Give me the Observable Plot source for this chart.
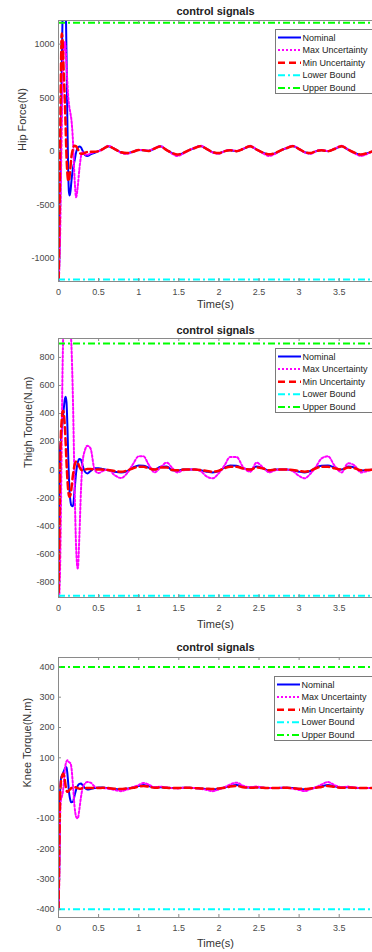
<!DOCTYPE html>
<html>
<head>
<meta charset="utf-8">
<script src="https://cdn.jsdelivr.net/npm/d3@7"></script>
<script src="https://cdn.jsdelivr.net/npm/@observablehq/plot@0.6"></script>
<style>
  html, body { margin: 0; padding: 0; background: #fff; overflow: hidden; }
  #page { position: relative; width: 372px; height: 952px; overflow: hidden; font-family: "Liberation Sans", Arial, sans-serif; }
  .chart { position: relative; width: 372px; overflow: hidden; }
  .chart svg { display: block; }
  .legend { position: absolute; }
</style>
</head>
<body>
<div id="page"></div>
<script>
// ---------- data ----------
const time = [0,0.01,0.02,0.03,0.04,0.05,0.06,0.07,0.08,0.09,0.10,0.11,0.12,0.13,0.14,0.15,0.16,
  0.18,0.20,0.22,0.24,0.26,0.28,0.30,
  0.33,0.36,0.40,0.45,0.50,
  0.55,0.62,0.70,0.78,0.85,0.93,1.00,1.06,1.12,1.20,
  1.27,1.35,1.42,1.48,1.55,1.63,1.70,1.77,1.85,1.92,
  2.00,2.07,2.14,2.22,2.30,2.39,2.47,2.55,2.63,2.70,
  2.78,2.85,2.92,3.00,3.07,3.14,3.21,3.28,3.36,3.44,
  3.53,3.61,3.69,3.77,3.85,3.92];

const xTicks = [0, 0.5, 1, 1.5, 2, 2.5, 3, 3.5];
const seriesNames = ["Nominal", "Max Uncertainty", "Min Uncertainty", "Lower Bound", "Upper Bound"];

// Hip force (N)
const hipNominal = [-1300,-1000,-500,100,700,1250,1600,1800,1700,1400,900,300,-150,-380,-414,-370,-290,
  -160,-90,-10,30,44,35,5, -35,-45,-30,-15,0,
  18,47,20,-12,-20,-5,10,8,2,25,
  45,10,-20,-35,-20,10,30,48,20,-10,
  -20,0,8,0,20,47,15,-15,-33,-20,
  10,30,48,20,-10,-20,0,8,0,20,
  47,15,-15,-35,-20,0];
const hipMax = [-1300,-1100,-800,-300,200,600,850,980,1020,950,800,650,520,440,390,350,300,
  100,-250,-430,-330,-170,-50,-10, -30,-35,-20,-10,0,
  15,50,22,-15,-25,-5,12,10,5,28,
  48,10,-25,-45,-25,10,32,50,20,-12,
  -25,0,12,2,22,50,15,-20,-45,-25,
  10,32,50,20,-12,-25,0,12,2,22,
  50,15,-20,-45,-25,0];
const hipMin = [-1300,-700,0,700,1100,1050,850,650,450,200,-50,-200,-270,-280,-220,-140,-60,
  20,50,45,20,-10,-25,-25, -15,-8,-5,-5,0,
  18,45,20,-10,-18,-5,10,8,2,25,
  43,10,-18,-32,-18,10,30,46,20,-8,
  -18,0,8,0,20,45,15,-13,-30,-18,
  10,30,46,20,-8,-18,0,8,0,20,
  45,15,-13,-32,-18,0];
const hipBounds = [-1200, 1200];
const hipDomain = [-1218, 1221];
const hipTicks = [-1000, -500, 0, 500, 1000];

// Thigh torque (N.m)
const thighNominal = [-950,-400,150,200,260,330,400,460,505,520,480,330,120,-60,-170,-230,-255,
  -262,-150,-20,50,75,70,30, -15,-27,-10,10,10,
  5,-5,-15,-20,-12,15,30,28,15,0,
  20,22,-5,-8,0,0,0,-5,-15,-20,
  -10,15,30,28,10,0,22,10,-8,0,
  0,0,-5,-15,-20,-10,15,28,30,15,
  0,22,15,-8,-3,0];
const thighMax = [-1000,-900,-700,-300,200,700,1000,1300,1500,1600,1600,1500,1400,1300,1150,1000,900,
  500,-100,-560,-705,-480,-150,50, 140,170,150,0,-25,
  -10,0,-40,-60,-30,40,95,95,40,-20,
  15,50,10,-20,-5,0,0,-10,-50,-62,
  -25,30,90,90,20,-15,50,15,-20,-5,
  0,0,-10,-45,-62,-30,20,80,95,30,
  -20,45,30,-20,-10,0];
const thighMin = [-950,-500,0,250,350,410,420,380,300,180,50,-60,-140,-185,-195,-180,-140,
  -40,30,58,50,20,0,-5, 0,5,5,0,0,
  0,-3,-10,-15,-8,10,20,20,10,0,
  15,15,-3,-5,0,0,0,-3,-10,-15,
  -8,10,20,20,8,0,15,8,-5,0,
  0,0,-3,-10,-15,-8,10,20,20,10,
  0,15,10,-5,-2,0];
const thighBounds = [-900, 900];
const thighDomain = [-912, 935];
const thighTicks = [-800, -600, -400, -200, 0, 200, 400, 600, 800];

// Knee torque (N.m)
const kneeNominal = [-400,-250,-20,30,40,45,52,58,65,70,68,50,20,-10,-30,-42,-47,
  -45,-25,-5,8,14,15,10, 0,-5,-3,0,2,
  2,0,-3,-4,-2,2,7,10,7,2,
  3,1,0,0,1,1,0,-1,-3,-4,
  -2,2,7,10,5,2,3,1,0,0,
  1,1,0,-3,-4,-2,2,6,10,6,
  2,3,1,0,0,0];
const kneeMax = [-400,-300,-100,-40,-30,-20,0,30,60,80,88,92,90,86,84,82,70,
  10,-60,-95,-100,-70,-30,0, 15,20,18,5,0,
  0,-2,-6,-10,-5,3,10,17,12,3,
  5,2,0,-1,1,1,0,-2,-6,-10,
  -4,3,12,18,8,3,5,2,0,0,
  1,1,-2,-6,-10,-4,3,12,20,10,
  3,5,2,0,0,0];
const kneeMin = [-400,-200,-30,20,35,45,48,40,25,5,-8,-12,-12,-8,-5,-3,0,
  2,3,2,0,-2,-2,0, 0,0,0,0,0,
  1,0,-2,-3,-1,1,5,7,5,1,
  2,1,0,0,1,1,0,-1,-2,-3,
  -1,1,5,7,3,1,2,1,0,0,
  1,1,0,-2,-3,-1,1,4,7,4,
  1,2,1,0,0,0];
const kneeBounds = [-400, 400];
const kneeDomain = [-427, 431];
const kneeTicks = [-400, -300, -200, -100, 0, 100, 200, 300, 400];

// ---------- styles ----------
const styles = [
  {stroke: "#0000ff", strokeWidth: 2, dash: null},
  {stroke: "#ff00ff", strokeWidth: 2, dash: "2,2"},
  {stroke: "#ff0000", strokeWidth: 2.5, dash: "7,4"},
  {stroke: "#00ffff", strokeWidth: 2, dash: "7,3,2,3"},
  {stroke: "#00ff00", strokeWidth: 2, dash: "7,3,2,3"}
];
const FONT = "'Liberation Sans', Arial, Helvetica, sans-serif";
const W = 372, ML = 58, MR = 0;
const xDomain = [0, 3.915];

function makeChart(cfg) {
  const rows = time.map((t, i) => ({t, nominal: cfg.nominal[i], max: cfg.max[i], min: cfg.min[i]}));
  const innerH = cfg.height - cfg.mt - cfg.mb;
  const innerW = W - ML - MR;
  const lineOpts = (key, s) => ({x: "t", y: key, stroke: s.stroke, strokeWidth: s.strokeWidth,
    strokeDasharray: s.dash || undefined, curve: "monotone-x", clip: true});
  const svg = Plot.plot({
    width: W, height: cfg.height,
    marginLeft: ML, marginRight: MR, marginTop: cfg.mt, marginBottom: cfg.mb,
    style: {fontFamily: FONT, fontSize: "9px", background: "white", overflow: "visible"},
    x: {domain: xDomain, label: null},
    y: {domain: cfg.yDomain, label: null},
    marks: [
      Plot.line(rows, lineOpts("nominal", styles[0])),
      Plot.line(rows, lineOpts("max", styles[1])),
      Plot.line(rows, lineOpts("min", styles[2])),
      Plot.ruleY([cfg.bounds[0]], {stroke: styles[3].stroke, strokeWidth: 2, strokeDasharray: styles[3].dash}),
      Plot.ruleY([cfg.bounds[1]], {stroke: styles[4].stroke, strokeWidth: 2, strokeDasharray: styles[4].dash}),
      // box (left, top, bottom)
      Plot.ruleX([xDomain[0]], {stroke: "#8a8a8a", strokeWidth: 1}),
      Plot.ruleY([cfg.yDomain[0], cfg.yDomain[1]], {stroke: "#8a8a8a", strokeWidth: 1}),
      // inward ticks
      Plot.tickX(xTicks, {x: d => d, insetTop: innerH - 3, stroke: "#8a8a8a"}),
      Plot.tickX(xTicks, {x: d => d, insetBottom: innerH - 3, stroke: "#8a8a8a"}),
      Plot.tickY(cfg.yTicks, {y: d => d, insetRight: innerW - 3, stroke: "#8a8a8a"}),
      Plot.axisX({ticks: xTicks, tickSize: 0, tickPadding: cfg.xPad, tickFormat: d => String(d), color: "#4a4a4a", label: null}),
      Plot.axisY({ticks: cfg.yTicks, tickSize: 0, tickPadding: 4, tickFormat: d => String(d), color: "#4a4a4a", label: null}),
      Plot.text(["control signals"], {text: d => d, frameAnchor: "top", lineAnchor: "middle", dy: cfg.titleDy, fontWeight: "bold", fontSize: 11, fill: "#222"}),
      Plot.text(["Time(s)"], {text: d => d, frameAnchor: "bottom", lineAnchor: "middle", dy: cfg.xlabDy, fontSize: 11, fill: "#333"}),
      Plot.text([cfg.ylabel], {text: d => d, frameAnchor: "left", lineAnchor: "middle", dx: cfg.ylabDx, rotate: -90, fontSize: 11, fill: "#333"})
    ]
  });
  const wrap = document.createElement("div");
  wrap.className = "chart";
  wrap.style.height = cfg.height + "px";
  wrap.appendChild(svg);

  // legend
  const lg = d3.create("svg").attr("class", "legend").attr("width", 110).attr("height", 66)
    .style("left", cfg.legLeft + "px").style("top", cfg.legTop + "px");
  lg.append("rect").attr("x", 0.5).attr("y", 0.5).attr("width", 108).attr("height", 64)
    .attr("fill", "white").attr("stroke", "#7a7a7a");
  seriesNames.forEach((name, i) => {
    const y = 8.5 + i * 12.6;
    const s = styles[i];
    lg.append("line").attr("x1", 3).attr("x2", 26).attr("y1", y).attr("y2", y)
      .attr("stroke", s.stroke).attr("stroke-width", s.strokeWidth)
      .attr("stroke-dasharray", s.dash);
    lg.append("text").attr("x", 27.5).attr("y", y).attr("dy", "0.35em")
      .attr("font-family", FONT).attr("font-size", 9).attr("fill", "#222").text(name);
  });
  wrap.appendChild(lg.node());
  return wrap;
}

const page = document.getElementById("page");
page.appendChild(makeChart({nominal: hipNominal, max: hipMax, min: hipMin, bounds: hipBounds,
  yDomain: hipDomain, yTicks: hipTicks, ylabel: "Hip Force(N)",
  height: 312, mt: 20, mb: 31, xPad: 7, titleDy: -9, xlabDy: 23, ylabDx: -36, legLeft: 275, legTop: 29}));
page.appendChild(makeChart({nominal: thighNominal, max: thighMax, min: thighMin, bounds: thighBounds,
  yDomain: thighDomain, yTicks: thighTicks, ylabel: "Thigh Torque(N.m)",
  height: 318, mt: 26, mb: 33, xPad: 7, titleDy: -8, xlabDy: 27, ylabDx: -30, legLeft: 275, legTop: 36}));
page.appendChild(makeChart({nominal: kneeNominal, max: kneeMax, min: kneeMin, bounds: kneeBounds,
  yDomain: kneeDomain, yTicks: kneeTicks, ylabel: "Knee Torque(N.m)",
  height: 322, mt: 27, mb: 35, xPad: 7, titleDy: -10, xlabDy: 26, ylabDx: -31, legLeft: 274, legTop: 46}));
</script>
</body>
</html>
